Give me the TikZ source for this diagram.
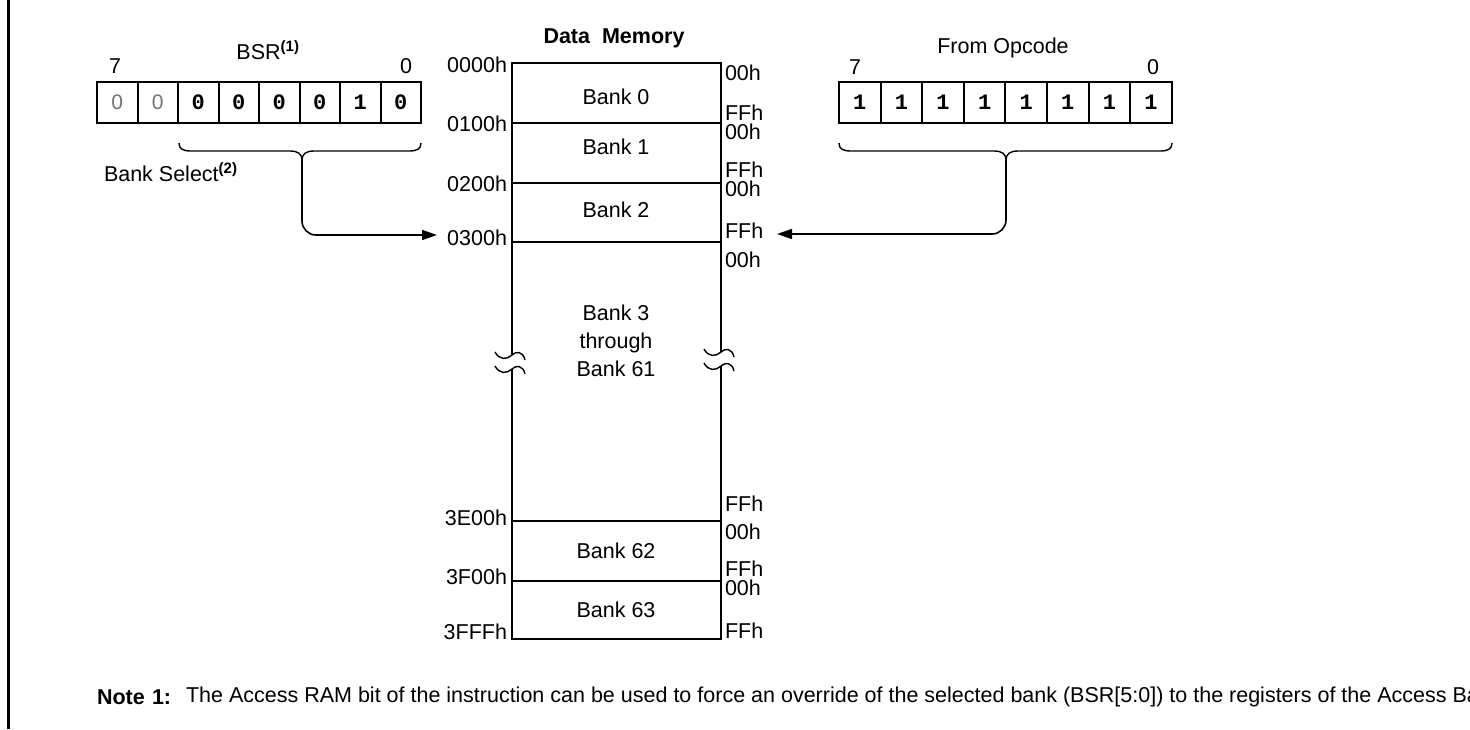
\documentclass[tikz,border=0pt]{standalone}
\usepackage{fontspec}
\setmainfont{Liberation Sans}
\newfontfamily\monofont{Liberation Mono}
\usetikzlibrary{arrows.meta}
\begin{document}
\begin{tikzpicture}[x=1pt,y=-1pt,line width=2pt,
  txt/.style={inner sep=0pt,font=\fontsize{21.5}{26}\selectfont},
  btxt/.style={inner sep=0pt,font=\bfseries\fontsize{21.5}{26}\selectfont},
  bitcell/.style={draw,minimum height=41pt,inner sep=0pt,font=\monofont\bfseries\fontsize{22}{26}\selectfont},
  greybit/.style={bitcell,font=\fontsize{21}{26}\selectfont,text=black!55},
  conn/.style={line width=1.6pt,rounded corners=14pt,-{Triangle[length=15pt,width=10pt]}},
  bracepath/.style={line width=1.4pt},
  memline/.style={line width=2pt}]
\useasboundingbox (0,0) rectangle (1470,729);
\clip (0,0) rectangle (1470,729);
% left frame line
\draw[line width=2.5pt] (8.5,0) -- (8.5,729);

% ---------- BSR register ----------
\foreach \i/\b in {1/0,2/0} {
  \node[greybit,minimum width=40.5pt] (a\i) at ({97+40.5*(\i-0.5)},102) {\b};
}
\foreach \i/\b in {3/0,4/0,5/0,6/0,7/1,8/0} {
  \node[bitcell,minimum width=40.5pt] (a\i) at ({97+40.5*(\i-0.5)},102) {\b};
}
\node[txt] (bsrlbl) at (268,50) {BSR\textsuperscript{\bfseries(1)}};
\node[txt] (a7lbl) at (115,66) {7};
\node[txt] (a0lbl) at (406,66) {0};
\node[txt,anchor=west] (bsel) at (103,172) {Bank Select\textsuperscript{\bfseries(2)}};
% brace
\draw[bracepath] (179,143) .. controls (179,149) and (183,151) .. (191,151) -- (290,151)
  .. controls (298,151) and (302,154) .. (302,160)
  .. controls (302,154) and (306,151) .. (314,151) -- (409,151)
  .. controls (417,151) and (421,149) .. (421,143);
\coordinate (tipA) at (302,160);
\coordinate (headA) at (437,235);

% ---------- Opcode register ----------
\foreach \i in {1,...,8} {
  \node[bitcell,minimum width=41.6pt] (o\i) at ({839+41.6*(\i-0.5)},102.5) {1};
}
\node[txt] (oplbl) at (1003,48) {From Opcode};
\node[txt] (o7lbl) at (855,67) {7};
\node[txt] (o0lbl) at (1153,67) {0};
\draw[bracepath] (839,143) .. controls (839,149) and (843,151) .. (851,151) -- (994,151)
  .. controls (1002,151) and (1006,154) .. (1006,160)
  .. controls (1006,154) and (1010,151) .. (1018,151) -- (1160,151)
  .. controls (1168,151) and (1172,149) .. (1172,143);
\coordinate (tipB) at (1006,160);
\coordinate (headB) at (777,234);

% ---------- Data memory ----------
\node[btxt] (dmtitle) at (614,38) {Data\ \ Memory};
\draw[memline] (512,63) -- (721,63);
\foreach \y in {123,183,242,521,581} { \draw[memline] (512,\y) -- (721,\y); }
\draw[memline] (512,639) -- (721,639);
% left edge (broken)
\draw[memline] (512,62) -- (512,355);
\draw[memline] (512,369) -- (512,640);
% right edge (broken)
\draw[memline] (721,62) -- (721,352);
\draw[memline] (721,366) -- (721,640);
% break squiggles
\foreach \x/\y in {512/356,512/370,721/353,721/367} {
  \draw[line width=1.4pt] (\x-17,\y-4) .. controls (\x-13,\y+4) and (\x-5,\y+4) .. (\x,\y-1)
    .. controls (\x+4,\y-5) and (\x+11,\y-5) .. (\x+13,\y+4);
}
% bank labels
\node[txt] (bk0) at (616,97) {Bank 0};
\node[txt] (bk1) at (616,147) {Bank 1};
\node[txt] (bk2) at (616,210) {Bank 2};
\node[txt,align=center,font=\fontsize{21.5}{28}\selectfont] (bk3) at (616,341) {Bank 3\\through\\Bank 61};
\node[txt] (bk62) at (616,551) {Bank 62};
\node[txt] (bk63) at (616,610) {Bank 63};
% left address labels
\node[txt,anchor=east] (l0000) at (508,65) {0000h};
\node[txt,anchor=east] (l0100) at (508,124) {0100h};
\node[txt,anchor=east] (l0200) at (508,184) {0200h};
\node[txt,anchor=east] (l0300) at (508,238) {0300h};
\node[txt,anchor=east] (l3E00) at (508,518) {3E00h};
\node[txt,anchor=east] (l3F00) at (508,577) {3F00h};
\node[txt,anchor=east] (l3FFF) at (508,632) {3FFFh};
% right offset labels
\node[txt,anchor=west] (r1) at (724,73) {00h};
\node[txt,anchor=west] (r2) at (724,113) {FFh};
\node[txt,anchor=west] (r3) at (724,132) {00h};
\node[txt,anchor=west] (r4) at (724,170) {FFh};
\node[txt,anchor=west] (r5) at (724,189) {00h};
\node[txt,anchor=west] (r6) at (724,231) {FFh};
\node[txt,anchor=west] (r7) at (724,260) {00h};
\node[txt,anchor=west] (r8) at (724,504) {FFh};
\node[txt,anchor=west] (r9) at (724,532) {00h};
\node[txt,anchor=west] (r10) at (724,569) {FFh};
\node[txt,anchor=west] (r11) at (724,588) {00h};
\node[txt,anchor=west] (r12) at (724,631) {FFh};

% connectors
\draw[conn] (tipA) |- (headA);
\draw[conn] (tipB) |- (headB);

% ---------- Note ----------
\node[btxt,anchor=west] (notew) at (96,697) {Note};
\node[btxt,anchor=west] (noten) at (151,697) {1:};
\node[txt,anchor=west] (notet) at (185,697) {The Access RAM bit of the instruction can be used to force an override of the selected bank (BSR[5:0]) to the registers of the Access Bank.};
\end{tikzpicture}
\end{document}
